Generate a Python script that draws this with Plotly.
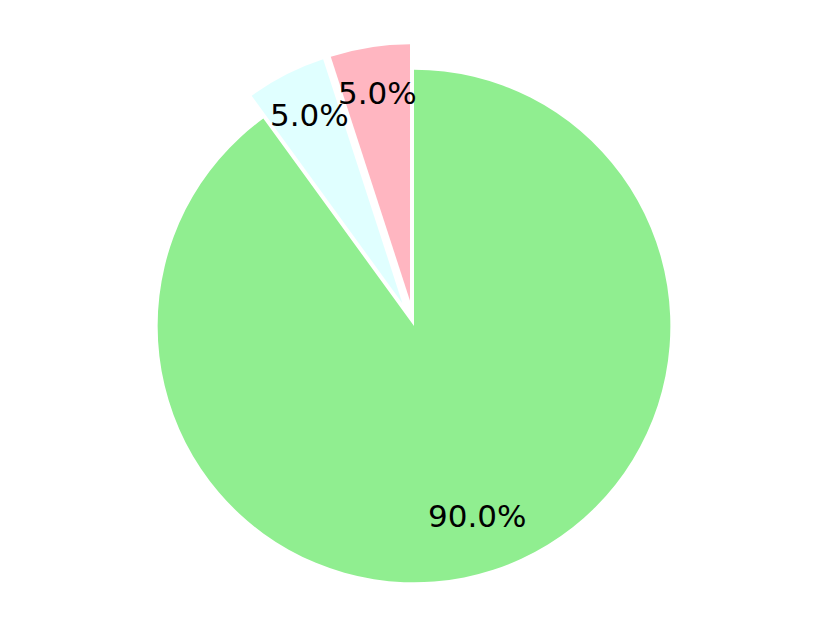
import numpy as np
import plotly.graph_objects as go

labels = ["A", "B", "C"]
values = [5, 5, 90]
colors = ["lightpink", "lightcyan", "lightgreen"]
pulls = [0.1, 0.1, 0.0]

W, H = 829, 626
ml, mr, mt, mb = 0, 17, 36, 26   # page body adds 8px on the left/top
pct_dist = 0.8
total = sum(values)

# plotly's counterclockwise pies end the first slice at `rotation`,
# so shift it back by the first slice's angle to start it at 12 o'clock
rot = -360.0 * values[0] / total

fig = go.Figure(go.Pie(
    labels=labels, values=values, sort=False,
    direction="counterclockwise", rotation=rot,
    pull=pulls, textinfo="none", hoverinfo="label+percent",
    marker=dict(colors=colors, line=dict(width=0)),
    showlegend=False
))

# percentage labels placed like matplotlib autopct
plot_w = W - ml - mr
plot_h = H - mt - mb
radius = min(plot_w, plot_h) / (2 * (1 + max(pulls)))
start = 90.0
for v, p in zip(values, pulls):
    span = 360.0 * v / total
    mid = np.deg2rad(start + span / 2)
    d = (pct_dist + p) * radius
    fig.add_annotation(
        x=0.5 + d * np.cos(mid) / plot_w, y=0.5 + d * np.sin(mid) / plot_h,
        xref="paper", yref="paper", showarrow=False, yshift=5,
        text=f"{100 * v / total:.1f}%",
        font=dict(family="DejaVu Sans", size=31, color="black"),
        xanchor="center", yanchor="middle"
    )
    start += span

fig.update_layout(
    width=W, height=H,
    margin=dict(l=ml, r=mr, t=mt, b=mb),
    paper_bgcolor="white", plot_bgcolor="white"
)
fig.write_html("out.html")
